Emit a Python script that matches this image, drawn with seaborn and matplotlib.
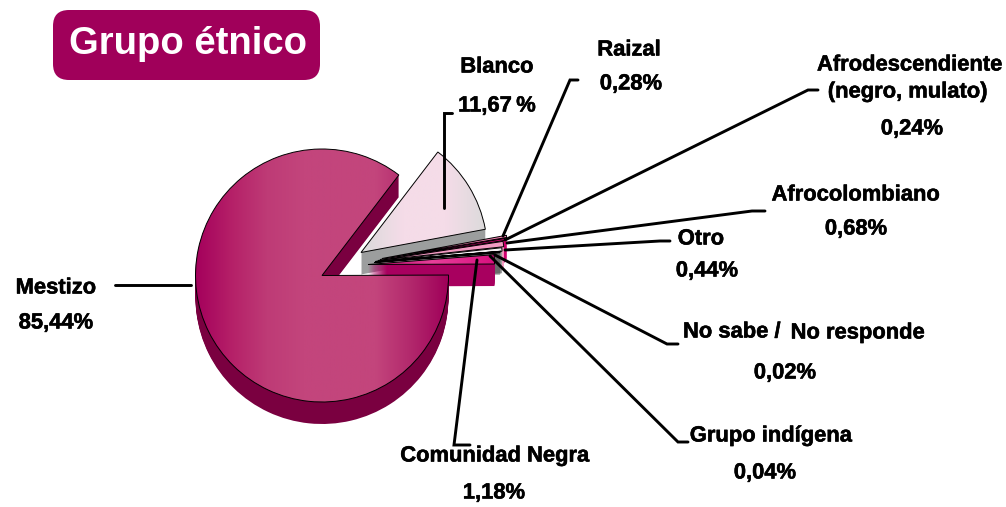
import matplotlib
matplotlib.use("Agg")
import numpy as np
import matplotlib.pyplot as plt
import matplotlib.patheffects as pe
import seaborn as sns
from matplotlib.patches import FancyBboxPatch

sns.set_theme(style="white")
plt.rcParams['font.family'] = ['Liberation Sans', 'DejaVu Sans']

# slices in drawing order, counter clockwise from the gap
categories = ["Mestizo", "Comunidad Negra", "Grupo indígena", "No sabe", "Otro",
              "Afrocolombiano", "Afrodescendiente", "Raizal", "Blanco"]
shares = [85.44, 1.18, 0.04, 0.02, 0.44, 0.68, 0.24, 0.28, 11.67]
top_colors = ["#C3457C", "#D9107F", "#222222", "#222222", "#F4F0F2",
              "#F29AC2", "#D0006E", "#F07FB0", "#F5DCE8"]
side_colors = ["#7A0040", "#A8005F", "#222222", "#222222", "#A0A0A0",
               "#F49AC0", "#D0006E", "#D0006E", "#9C9E9E"]

# how far each slice is pulled out of the pie, in pixels (right, up)
shifts = [(0, 0), (46, 11), (52, 13), (53, 14), (54, 14), (56, 15), (58, 16), (60, 17), (39, 23)]

cx, cy = 322, 507 - 275.5
radius = 126.5
depth = 22

fig = plt.figure(figsize=(10.06, 5.07), dpi=100)
ax = fig.add_axes([0, 0, 1, 1])


def py(y):
    return 507 - y


def draw_pie(colors, off, zbase, lw):
    wedges, _ = ax.pie(shares, colors=colors, startangle=52.6, radius=radius, center=(cx, cy),
                       wedgeprops=dict(linewidth=lw, edgecolor="black" if lw else "none"))
    for i, w in enumerate(wedges):
        sx, sy = shifts[i]
        w.set_center((cx + sx, cy + sy - off))
        w.set_zorder(10 * (len(wedges) - i) + zbase)
    return wedges


for off in range(depth, 0, -1):
    draw_pie(side_colors, off, 0, 0)
tops = draw_pie(top_colors, 0, 2, 0.7)

# horizontal shading on the big slices
shades = {
    0: ["#A4005C", "#B52068", "#BE3B76", "#C3457C", "#C3457C", "#C3457C", "#B2286C", "#A0005A"],
    1: ["#B00062", "#E8409A", "#D9107F"],
    8: ["#DADADA", "#F5DCE8", "#F5DCE8", "#DADADA"],
}
for i, stops in shades.items():
    cmap = sns.blend_palette(stops, as_cmap=True)
    x0 = cx + shifts[i][0] - (radius if i == 0 else 0)
    im = ax.imshow(np.linspace(0, 1, 256).reshape(1, -1), cmap=cmap, aspect="auto",
                   extent=(x0, cx + shifts[i][0] + radius, py(420), py(130)),
                   zorder=tops[i].get_zorder() - 1)
    im.set_clip_path(tops[i])
    tops[i].set_facecolor("none")

ax.set_xlim(0, 1006)
ax.set_ylim(0, 507)
ax.set_aspect("auto")
ax.axis("off")

# title box
ax.add_patch(FancyBboxPatch((53, py(80)), 267, 70, boxstyle="round,pad=0,rounding_size=16",
                            fc="#A0005A", ec="none", zorder=200))
ax.text(188, py(44), "Grupo étnico", color="white", fontsize=27.5, fontweight="bold",
        ha="center", va="center", zorder=201)

# leader lines
leaders = [
    [(444, 208), (444, 113), (452, 113)],
    [(503, 236), (570, 80), (578, 80)],
    [(505, 240), (808, 90), (818, 90)],
    [(507, 243), (752, 211), (765, 211)],
    [(505, 250), (660, 241), (670, 241)],
    [(495, 255), (667, 344), (678, 344)],
    [(490, 256), (678, 442), (688, 442)],
    [(477, 260), (454, 445), (470, 445)],
    [(115, 285), (191, 285)],
]
for pts in leaders:
    xs, ys = zip(*pts)
    ax.plot(xs, [py(v) for v in ys], color="black", lw=2.1, zorder=150, solid_joinstyle="miter")


def pct(name):
    return f"{shares[categories.index(name)]:.2f}".replace(".", ",") + "%"


texts = [
    ("Blanco", 497, 67), (pct("Blanco").replace("%", "\u2009%"), 497, 106),
    ("Raizal", 629, 50), (pct("Raizal"), 631, 84),
    ("Afrodescendiente", 910, 65), ("(negro, mulato)", 908, 92), (pct("Afrodescendiente"), 912, 129),
    ("Afrocolombiano", 856, 195), (pct("Afrocolombiano"), 856, 229),
    ("Otro", 701, 239), (pct("Otro"), 707, 271),
    ("No sabe /", 732, 332), ("No responde", 858, 333), (pct("No sabe"), 785, 373),
    ("Grupo indígena", 771, 436), (pct("Grupo indígena"), 765, 473),
    ("Comunidad Negra", 495, 456), (pct("Comunidad Negra"), 494, 493),
    ("Mestizo", 56, 288), (pct("Mestizo"), 56, 323),
]
for s, x, y in texts:
    ax.text(x, py(y), s, fontsize=15.8, fontweight="bold", color="black",
            ha="center", va="center", zorder=160,
            path_effects=[pe.withStroke(linewidth=0.4, foreground="black")])

fig.savefig("out.png", dpi=100)
